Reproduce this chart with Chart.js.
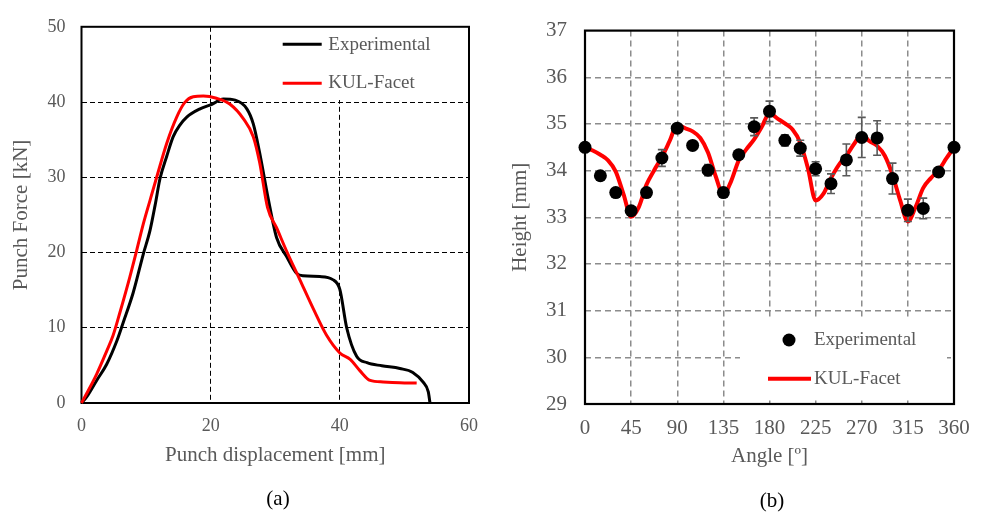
<!DOCTYPE html>
<html><head><meta charset="utf-8">
<script src="https://cdn.jsdelivr.net/npm/chart.js@4.4.1/dist/chart.umd.min.js"></script>
<style>
html,body{margin:0;padding:0;background:#fff;width:984px;height:512px;overflow:hidden;}
.panel{position:absolute;top:0;height:512px;}
#pa{left:0;width:490px;}
#pb{left:490px;width:494px;}
.cap{position:absolute;font-family:'Liberation Serif','Times New Roman',serif;font-size:21px;color:#000;transform:translate(-50%,-50%);white-space:nowrap;}
</style></head><body>
<div class="panel" id="pa"><canvas id="ca" width="490" height="512"></canvas></div>
<div class="panel" id="pb"><canvas id="cb" width="494" height="512"></canvas></div>
<div class="cap" style="left:278px;top:498px;">(a)</div>
<div class="cap" style="left:772px;top:500px;">(b)</div>
<script>
// ---------- (a) Punch force vs displacement ----------
const dispExp  = [0,0.8,2.35,3.9,5.45,6.5,8.0,9.57,10.6,11.4,12.15,13.2,14.2,15.2,16.3,18.35,20.2,21.96,23.8,25.6,26.6,27.6,28.9,30.2,31.8,33.3,34.3,36.9,38.9,40.0,41.06,42.6,44.2,46.5,49.3,51.3,52.9,53.7,53.96];
const forceExp = [0,0.8,3.0,5.15,8.2,10.8,14.65,19.8,22.9,26.3,29.8,32.8,35.4,36.9,38.0,39.1,39.7,40.4,40.25,39.1,37.1,33.2,27.2,22.0,19.4,17.25,16.9,16.8,16.4,15.1,10.0,6.2,5.36,4.95,4.58,4.06,2.76,1.47,0];
const dispKul  = [0,0.8,2.35,3.9,4.9,5.96,7.5,8.55,9.57,10.6,11.64,13.19,14.74,16.0,17.3,18.86,20.9,23.0,25.05,26.6,27.6,28.8,30.2,31.7,33.8,35.9,37.9,40.0,41.6,43.1,44.7,46.7,49.3,51.9];
const forceKul = [0,1.26,3.85,6.9,9.0,12.06,16.8,20.3,23.8,26.9,30.0,34.5,38.0,39.95,40.7,40.8,40.5,39.7,37.8,35.4,31.9,26.0,23.3,20.3,16.4,12.5,9.07,6.65,5.8,4.3,3.0,2.8,2.7,2.65];
const xTicksA = [0,20,40,60];
const yTicksA = [0,10,20,30,40,50];

// ---------- (b) Height vs angle ----------
const angleExp  = [0,15,30,45,60,75,90,105,120,135,150,165,180,195,210,225,240,255,270,285,300,315,330,345,360];
const heightExp = [34.50,33.89,33.53,33.14,33.53,34.27,34.91,34.54,34.01,33.53,34.34,34.94,35.27,34.65,34.48,34.04,33.72,34.23,34.71,34.70,33.83,33.15,33.19,33.97,34.50];
const errExp    = [0,0,0,0.08,0,0.18,0.06,0.06,0.12,0.06,0.06,0.19,0.22,0.12,0.17,0.15,0.21,0.34,0.43,0.37,0.33,0.24,0.22,0,0];
const angleKul  = [0,7.5,15,22.5,30,37.5,45,52.5,60,67.5,75,82.5,90,97.5,105,112.5,120,127.5,135,142.5,150,157.5,165,172.5,180,187.5,195,202.5,210,217.5,225,232.5,240,247.5,255,262.5,270,277.5,285,292.5,300,307.5,315,322.5,330,337.5,345,352.5,360];
const heightKul = [34.50,34.43,34.34,34.22,33.98,33.50,33.01,33.22,33.70,34.01,34.29,34.63,34.98,34.91,34.84,34.70,34.39,33.88,33.48,33.77,34.22,34.46,34.67,34.94,35.23,35.12,35.01,34.88,34.60,34.05,33.36,33.50,33.84,34.12,34.32,34.57,34.77,34.63,34.53,34.32,33.91,33.36,32.91,33.22,33.63,33.84,34.01,34.26,34.50];
const xTicksB = [0,45,90,135,180,225,270,315,360];
const yTicksB = [29,30,31,32,33,34,35,36,37];

const FONT = "'Liberation Serif','Times New Roman',serif";
const GRAY = '#595959';
const pts = (xs, ys) => xs.map((x, i) => ({x, y: ys[i]}));

const deco = {
  id: 'deco',
  beforeDatasetsDraw(chart, args, o) {
    const {ctx, chartArea: ca} = chart;
    ctx.save();
    const b = o.box;
    ctx.fillStyle = '#fff';
    ctx.fillRect(b[0], b[1], b[2] - b[0], b[3] - b[1]);
    ctx.setLineDash([]);
    ctx.strokeStyle = '#000';
    ctx.lineWidth = o.frameWidth;
    ctx.strokeRect(ca.left, ca.top, ca.right - ca.left, ca.bottom - ca.top);
    ctx.font = o.fontSize + 'px ' + FONT;
    ctx.textBaseline = 'middle';
    ctx.textAlign = 'left';
    o.items.forEach(it => {
      const ds = chart.data.datasets[it.ds];
      if (it.kind === 'line') {
        ctx.strokeStyle = ds.borderColor; ctx.lineWidth = it.w; ctx.lineCap = 'butt';
        ctx.beginPath(); ctx.moveTo(it.x0, it.y); ctx.lineTo(it.x1, it.y); ctx.stroke();
      } else {
        ctx.fillStyle = ds.backgroundColor;
        ctx.beginPath(); ctx.arc(it.x0, it.y, it.r, 0, Math.PI * 2); ctx.fill();
      }
      ctx.fillStyle = GRAY;
      ctx.fillText(ds.label, it.tx, it.ty);
    });
    ctx.restore();
  },
  beforeDatasetDraw(chart, args, o) {
    if (!o.err || args.index !== o.err.ds) return;
    const {ctx} = chart;
    const xs = chart.scales.x, ys = chart.scales.y;
    ctx.save();
    ctx.strokeStyle = o.err.color; ctx.lineWidth = o.err.width; ctx.setLineDash([]);
    o.err.values.forEach((e, i) => {
      if (!e) return;
      const x = xs.getPixelForValue(o.err.xv[i]);
      const y1 = ys.getPixelForValue(o.err.yv[i] + e);
      const y2 = ys.getPixelForValue(o.err.yv[i] - e);
      const c = o.err.cap;
      ctx.beginPath();
      ctx.moveTo(x, y1); ctx.lineTo(x, y2);
      ctx.moveTo(x - c, y1); ctx.lineTo(x + c, y1);
      ctx.moveTo(x - c, y2); ctx.lineTo(x + c, y2);
      ctx.stroke();
    });
    ctx.restore();
  }
};

function edgeColor(col) {
  return (c) => (c.tick && (c.index === 0 || c.index === c.scale.ticks.length - 1)) ? 'rgba(0,0,0,0)' : col;
}

// ---- Chart (a)
new Chart(document.getElementById('ca'), {
  type: 'scatter',
  data: {
    datasets: [
      {label: 'KUL-Facet', data: pts(dispKul, forceKul), showLine: true, borderColor: '#ff0000', backgroundColor: '#ff0000',
       borderWidth: 3, pointRadius: 0, cubicInterpolationMode: 'monotone', order: 0, clip: false},
      {label: 'Experimental', data: pts(dispExp, forceExp), showLine: true, borderColor: '#000000', backgroundColor: '#000000',
       borderWidth: 3, pointRadius: 0, cubicInterpolationMode: 'monotone', order: 1, clip: false}
    ]
  },
  options: {
    responsive: false, animation: false, events: [],
    layout: {padding: {left: 0, top: 17.5, right: 21, bottom: 39}},
    plugins: {
      legend: {display: false}, tooltip: {enabled: false},
      deco: {
        box: [253, 25, 457, 100], frameWidth: 2, fontSize: 19,
        items: [
          {ds: 1, kind: 'line', x0: 282.7, x1: 321.7, y: 44.3, w: 3, tx: 328.3, ty: 45},
          {ds: 0, kind: 'line', x0: 282.7, x1: 321.7, y: 83.3, w: 3, tx: 328.3, ty: 83.5}
        ]
      }
    },
    scales: {
      x: {
        type: 'linear', min: 0, max: 60,
        afterBuildTicks: (s) => { s.ticks = xTicksA.map(v => ({value: v})); },
        afterFit: (s) => { s.height = 70; },
        grid: {color: edgeColor('#000'), lineWidth: 1, drawTicks: false},
        border: {display: false, dash: [5, 3]},
        ticks: {color: GRAY, font: {family: FONT, size: 18}, padding: 12},
        title: {display: true, text: 'Punch displacement [mm]', color: GRAY, font: {family: FONT, size: 21}, padding: {top: 0, bottom: 5}}
      },
      y: {
        type: 'linear', min: 0, max: 50,
        afterBuildTicks: (s) => { s.ticks = yTicksA.map(v => ({value: v})); },
        afterFit: (s) => { s.width = 81.5; },
        grid: {color: edgeColor('#000'), lineWidth: 1, drawTicks: false},
        border: {display: false, dash: [5, 3]},
        ticks: {color: GRAY, font: {family: FONT, size: 18}, padding: 16},
        title: {display: true, text: 'Punch Force [kN]', color: GRAY, font: {family: FONT, size: 21}, padding: {top: 9, bottom: 0}}
      }
    }
  },
  plugins: [deco]
});

// ---- Chart (b)
new Chart(document.getElementById('cb'), {
  type: 'scatter',
  data: {
    datasets: [
      {label: 'Experimental', data: pts(angleExp, heightExp), showLine: false, borderColor: '#000000', backgroundColor: '#000000',
       pointRadius: 6.5, pointBorderWidth: 0, clip: false},
      {label: 'KUL-Facet', data: pts(angleKul, heightKul), showLine: true, borderColor: '#ff0000', backgroundColor: '#ff0000',
       borderWidth: 4, pointRadius: 0, cubicInterpolationMode: 'monotone', clip: false}
    ]
  },
  options: {
    responsive: false, animation: false, events: [],
    layout: {padding: {left: 0, top: 17.3, right: 30, bottom: 38}},
    plugins: {
      legend: {display: false}, tooltip: {enabled: false},
      deco: {
        box: [250, 318, 457, 398], frameWidth: 2.2, fontSize: 19,
        items: [
          {ds: 0, kind: 'dot', x0: 299, r: 6.5, y: 340, tx: 324, ty: 340.5},
          {ds: 1, kind: 'line', x0: 278, x1: 321, y: 378.7, w: 4, tx: 324, ty: 379}
        ],
        err: {ds: 0, xv: angleExp, yv: heightExp, values: errExp, color: GRAY, width: 1.6, cap: 4}
      }
    },
    scales: {
      x: {
        type: 'linear', min: 0, max: 360,
        afterBuildTicks: (s) => { s.ticks = xTicksB.map(v => ({value: v})); },
        afterFit: (s) => { s.height = 70; },
        grid: {color: edgeColor('#8c8c8c'), lineWidth: 1.5, drawTicks: false},
        border: {display: false, dash: [6, 4]},
        ticks: {color: GRAY, font: {family: FONT, size: 21}, padding: 12},
        title: {display: true, text: 'Angle [º]', color: GRAY, font: {family: FONT, size: 21}, padding: {top: 0, bottom: 5}}
      },
      y: {
        type: 'linear', min: 29, max: 37,
        afterBuildTicks: (s) => { s.ticks = yTicksB.map(v => ({value: v})); },
        afterFit: (s) => { s.width = 95; },
        grid: {color: edgeColor('#8c8c8c'), lineWidth: 1.5, drawTicks: false},
        border: {display: false, dash: [6, 4]},
        ticks: {color: GRAY, font: {family: FONT, size: 21}, padding: 18},
        title: {display: true, text: 'Height [mm]', color: GRAY, font: {family: FONT, size: 21}, padding: {top: 17.5, bottom: 0}}
      }
    }
  },
  plugins: [deco]
});
</script>
</body></html>
